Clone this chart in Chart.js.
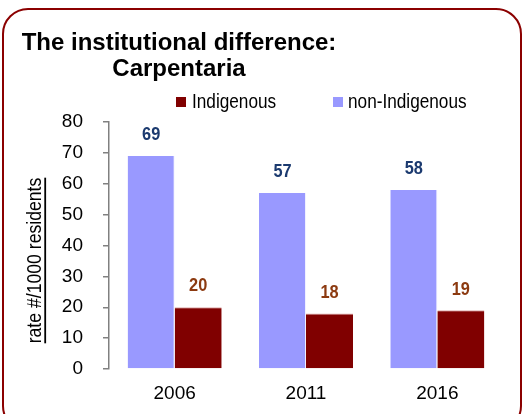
<!DOCTYPE html>
<html><head><meta charset="utf-8">
<script src="https://cdn.jsdelivr.net/npm/chart.js@4.4.1/dist/chart.umd.min.js"></script>
<style>
html,body{margin:0;padding:0;background:#fff;overflow:hidden;}
#wrap{position:relative;width:526px;height:414px;overflow:hidden;}
#frame{position:absolute;left:2px;top:8px;width:520px;height:424px;border:2.5px solid #8b0000;border-radius:26px;box-sizing:border-box;}
canvas{position:absolute;left:0;top:0;}
</style></head><body>
<div id="wrap"><div id="frame"></div><canvas id="c" width="526" height="414"></canvas></div>
<script>
const categories = ['2006', '2011', '2016'];
const nonIndigenous = [69, 57, 58];
const indigenous = [20, 18, 19];
const seriesNames = ['non-Indigenous', 'Indigenous'];
const legendOrder = ['Indigenous', 'non-Indigenous'];
const titleLines = ['The institutional difference:', 'Carpentaria'];
const yTitle = 'rate #/1000 residents';
const yMin = 0, yMax = 80, yStep = 10;

const COL_NON = '#9999FF';
const COL_IND = '#800000';
const LBL_NON = '#1b3a6f';
const LBL_IND = '#8c3a10';

function hasFont(name) {
  const c = document.createElement('canvas').getContext('2d');
  c.font = '40px monospace';
  const a = c.measureText('Indigenous mmwwii 2006').width;
  c.font = '40px "' + name + '", monospace';
  const b = c.measureText('Indigenous mmwwii 2006').width;
  return Math.abs(a - b) > 0.5;
}
const narrow = hasFont('Liberation Sans Narrow');
const NF = narrow ? '"Liberation Sans Narrow", "Liberation Sans", Arial, sans-serif' : '"Liberation Sans", Arial, sans-serif';
const SX = narrow ? 1.05 : 0.86;   // horizontal squeeze for custom-drawn narrow text
const TICK_SIZE = narrow ? 22 : 19;

function narrowText(ctx, text, x, y, size, bold, align) {
  ctx.save();
  ctx.font = (bold ? 'bold ' : '') + size + 'px ' + NF;
  ctx.textAlign = align;
  ctx.textBaseline = 'middle';
  ctx.translate(x, y);
  ctx.scale(SX, 1);
  ctx.fillText(text, 0, 0);
  const w = ctx.measureText(text).width * SX;
  ctx.restore();
  return w;
}

const decor = {
  id: 'decor',
  afterDraw(chart) {
    const ctx = chart.ctx;
    ctx.save();
    // Title
    ctx.fillStyle = '#000';
    ctx.textAlign = 'center';
    ctx.textBaseline = 'alphabetic';
    ctx.font = 'bold 24px "Liberation Sans", Arial, sans-serif';
    ctx.fillText(titleLines[0], 179, 50);
    ctx.fillText(titleLines[1], 179, 76);
    // Legend
    const legendItems = [
      { text: legendOrder[0], color: COL_IND, bx: 176, tx: 192 },
      { text: legendOrder[1], color: COL_NON, bx: 333, tx: 348 }
    ];
    legendItems.forEach(it => {
      ctx.fillStyle = it.color;
      ctx.fillRect(it.bx, 97, 10, 10);
      ctx.fillStyle = '#000';
      narrowText(ctx, it.text, it.tx, 102.5, 20, false, 'left');
    });
    // Value labels
    chart.data.datasets.forEach((ds, di) => {
      const meta = chart.getDatasetMeta(di);
      ctx.fillStyle = di === 0 ? LBL_NON : LBL_IND;
      meta.data.forEach((bar, i) => {
        narrowText(ctx, String(ds.data[i]), bar.x, bar.y - 21, 19, true, 'center');
      });
    });
    // Y axis title, underlined
    ctx.translate(35, 260.5);
    ctx.rotate(-Math.PI / 2);
    ctx.fillStyle = '#000';
    const w = narrowText(ctx, yTitle, 0, 0, 20.5, false, 'center');
    ctx.strokeStyle = '#000';
    ctx.lineWidth = 1.8;
    ctx.beginPath();
    ctx.moveTo(-w / 2, 10.2);
    ctx.lineTo(w / 2, 10.2);
    ctx.stroke();
    ctx.restore();
  }
};

new Chart(document.getElementById('c'), {
  type: 'bar',
  data: {
    labels: categories,
    datasets: [
      { label: seriesNames[0], data: nonIndigenous, backgroundColor: COL_NON, borderColor: 'rgba(230,230,255,0.6)', borderWidth: { top: 0, left: 0, bottom: 0, right: 1 }, borderSkipped: false, barPercentage: 1, categoryPercentage: 0.716 },
      { label: seriesNames[1], data: indigenous, backgroundColor: COL_IND, borderColor: 'rgba(200,110,110,0.6)', borderWidth: { top: 1, left: 0, bottom: 0, right: 0 }, borderSkipped: false, barPercentage: 1, categoryPercentage: 0.716 }
    ]
  },
  options: {
    responsive: false,
    animation: false,
    devicePixelRatio: 1,
    layout: { padding: { left: 20, right: 23, top: 122, bottom: 0 } },
    plugins: { legend: { display: false }, title: { display: false }, tooltip: { enabled: false } },
    scales: {
      x: {
        grid: { display: false, drawTicks: false, tickLength: 0 },
        border: { display: false },
        ticks: { color: '#000', font: { family: NF, size: TICK_SIZE }, padding: 13.5 },
        afterFit: (s) => { s.height = 45; }
      },
      y: {
        min: yMin, max: yMax,
        ticks: { stepSize: yStep, color: '#000', font: { family: NF, size: TICK_SIZE }, padding: 20 },
        grid: { drawOnChartArea: false, drawTicks: true, tickLength: 6, color: '#808080', lineWidth: 1.5 },
        border: { display: true, color: '#808080', width: 1.5 },
        afterFit: (s) => { s.width = 89; }
      }
    }
  },
  plugins: [decor]
});
</script>
</body></html>
